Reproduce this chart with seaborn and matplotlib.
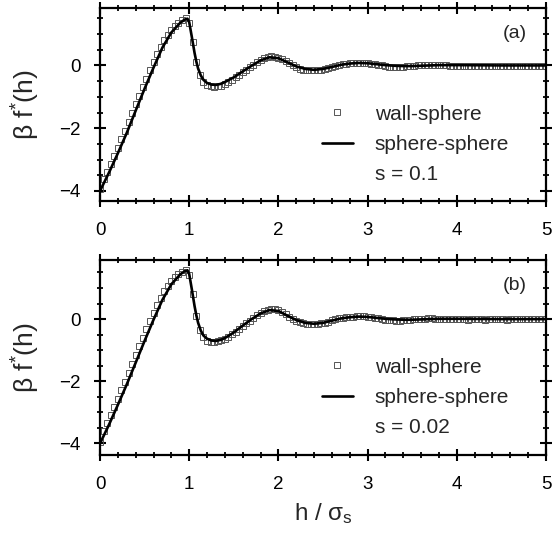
import numpy as np
import pandas as pd
import matplotlib
matplotlib.use("Agg")
import matplotlib.pyplot as plt
from matplotlib.lines import Line2D
from matplotlib.ticker import MultipleLocator
import seaborn as sns

# ---------------- data ----------------
# sphere-sphere curves (solid lines)
h_line = [0.0, 0.1, 0.2, 0.3, 0.4, 0.5, 0.6, 0.7, 0.8, 0.9,
          0.95, 0.98, 1.0, 1.03, 1.06, 1.08, 1.1, 1.13, 1.16, 1.2,
          1.25, 1.3, 1.35, 1.4, 1.5, 1.6, 1.7, 1.8, 1.9, 2.0,
          2.1, 2.2, 2.3, 2.4, 2.5, 2.6, 2.7, 2.8, 2.9, 3.0,
          3.1, 3.2, 3.3, 3.4, 3.5, 3.6, 3.8, 4.0, 4.5, 5.0]
ss_a = [-4.0, -3.42, -2.8, -2.15, -1.44, -0.74, -0.07, 0.57, 1.05, 1.36,
        1.46, 1.49, 1.38, 0.9, 0.4, 0.12, -0.1, -0.32, -0.46, -0.56,
        -0.61, -0.62, -0.59, -0.53, -0.38, -0.19, -0.01, 0.16, 0.26, 0.23,
        0.1, -0.03, -0.11, -0.14, -0.11, -0.05, 0.02, 0.06, 0.08, 0.07,
        0.04, 0.01, -0.01, -0.02, -0.02, -0.01, 0.01, 0.01, 0.0, 0.0]
ss_b = [-4.0, -3.4, -2.76, -2.1, -1.4, -0.7, -0.02, 0.62, 1.12, 1.44,
        1.54, 1.57, 1.45, 0.95, 0.42, 0.12, -0.12, -0.37, -0.53, -0.63,
        -0.69, -0.70, -0.67, -0.61, -0.43, -0.21, 0.0, 0.18, 0.29, 0.26,
        0.11, -0.03, -0.12, -0.15, -0.12, -0.05, 0.02, 0.06, 0.08, 0.07,
        0.04, 0.01, -0.01, -0.02, -0.02, -0.01, 0.01, 0.01, 0.0, 0.0]

# wall-sphere data (open squares), sampled every 0.04 in h
ws_step = 0.04
ws_a = [-3.95, -3.62, -3.38, -3.13, -2.88, -2.62, -2.36, -2.08, -1.80, -1.52,
        -1.24, -0.96, -0.69, -0.42, -0.15, 0.11, 0.36, 0.59, 0.80, 0.98,
        1.13, 1.26, 1.36, 1.45, 1.51, 1.35, 0.75, 0.10, -0.30, -0.52,
        -0.62, -0.67, -0.68, -0.67, -0.64, -0.59, -0.53, -0.46, -0.38, -0.30,
        -0.22, -0.14, -0.06, 0.02, 0.10, 0.17, 0.23, 0.27, 0.29, 0.28,
        0.25, 0.20, 0.14, 0.07, 0.01, -0.05, -0.10, -0.13, -0.15, -0.16,
        -0.16, -0.15, -0.13, -0.10, -0.07, -0.04, -0.01, 0.02, 0.04, 0.06,
        0.07, 0.08, 0.09, 0.09, 0.09, 0.08, 0.06, 0.04, 0.02, 0.00,
        -0.02, -0.04, -0.05, -0.05, -0.05, -0.04, -0.03, -0.02, -0.01, 0.00,
        0.01, 0.01, 0.02, 0.02, 0.01, 0.01, 0.00, 0.00, -0.01, -0.01,
        -0.02, -0.02, -0.02, -0.03, -0.02, -0.02, -0.02, -0.03, -0.02, -0.02,
        -0.02, -0.02, -0.03, -0.02, -0.02, -0.02, -0.02, -0.03, -0.02, -0.02,
        -0.02, -0.02, -0.02, -0.02, -0.02, -0.02]
ws_b = [-3.95, -3.60, -3.35, -3.09, -2.83, -2.56, -2.29, -2.01, -1.73, -1.45,
        -1.16, -0.88, -0.60, -0.32, -0.05, 0.21, 0.46, 0.69, 0.90, 1.08,
        1.23, 1.35, 1.45, 1.52, 1.58, 1.42, 0.80, 0.10, -0.36, -0.59,
        -0.69, -0.73, -0.74, -0.72, -0.68, -0.63, -0.56, -0.48, -0.40, -0.31,
        -0.22, -0.13, -0.05, 0.04, 0.12, 0.19, 0.26, 0.30, 0.32, 0.31,
        0.28, 0.22, 0.15, 0.08, 0.01, -0.05, -0.10, -0.14, -0.16, -0.17,
        -0.17, -0.16, -0.14, -0.11, -0.08, -0.04, -0.01, 0.02, 0.04, 0.06,
        0.07, 0.08, 0.09, 0.09, 0.09, 0.08, 0.06, 0.04, 0.02, 0.00,
        -0.02, -0.03, -0.04, -0.05, -0.05, -0.04, -0.03, -0.02, -0.01, 0.00,
        0.01, 0.01, 0.02, 0.02, 0.01, 0.01, 0.00, 0.00, -0.01, -0.01,
        -0.01, -0.01, -0.01, -0.02, -0.01, -0.01, -0.01, -0.01, -0.02, -0.01,
        -0.01, -0.01, -0.01, -0.01, -0.02, -0.01, -0.01, -0.01, -0.01, -0.01,
        -0.01, -0.01, -0.01, -0.01, -0.01, -0.01]

panel_tags = ["(a)", "(b)"]
s_labels = ["s = 0.1", "s = 0.02"]
x_ticks = [0, 1, 2, 3, 4, 5]
y_ticks = [-4, -2, 0]

# ---------------- style ----------------
sns.set_theme(style="ticks")
plt.rcParams["font.family"] = ["Liberation Sans", "DejaVu Sans"]
plt.rcParams["mathtext.fontset"] = "custom"
plt.rcParams["mathtext.rm"] = "Liberation Sans"
plt.rcParams["mathtext.it"] = "Liberation Sans"
plt.rcParams["mathtext.sf"] = "Liberation Sans"

fig = plt.figure(figsize=(5.53, 5.44), dpi=100)
axes = [fig.add_axes([100 / 553, 1 - 201 / 544, 446 / 553, 193 / 544]),
        fig.add_axes([100 / 553, 1 - 455 / 544, 446 / 553, 195 / 544])]
ylims = [(-4.32, 1.83), (-4.37, 1.90)]

for i, ax in enumerate(axes):
    ws = ws_a if i == 0 else ws_b
    ss = ss_a if i == 0 else ss_b
    h_ws = np.round(ws_step * np.arange(len(ws)), 2)
    df_ws = pd.DataFrame({"h": h_ws, "f": ws})
    df_ss = pd.DataFrame({"h": h_line, "f": ss})

    sns.lineplot(data=df_ws, x="h", y="f", ax=ax, estimator=None, sort=False,
                 linestyle="none", marker="s", markersize=4.8,
                 markerfacecolor="none", markeredgecolor="#555555",
                 markeredgewidth=0.7, color="#555555", zorder=2)
    sns.lineplot(data=df_ss, x="h", y="f", ax=ax, estimator=None, sort=False,
                 color="black", linewidth=1.9, zorder=3)

    ax.set_xlim(0, 5)
    ax.set_ylim(*ylims[i])
    ax.set_xticks(x_ticks)
    ax.set_yticks(y_ticks)
    ax.xaxis.set_minor_locator(MultipleLocator(0.2))
    ax.yaxis.set_minor_locator(MultipleLocator(0.5))
    ax.tick_params(which="both", top=True, right=True, direction="inout",
                   labelsize=13.5, colors="black", labelcolor="black")
    ax.tick_params(which="major", length=8, width=1.5)
    ax.tick_params(which="minor", length=5, width=1.3)
    ax.tick_params(axis="x", which="major", pad=11)
    ax.tick_params(axis="y", which="major", pad=10)
    for sp in ax.spines.values():
        sp.set_linewidth(1.6)
        sp.set_color("black")
        sp.set_visible(True)

    ax.set_xlabel("")
    ax.set_ylabel(r"$\mathrm{\beta\ f^{*}(h)}$", fontsize=19, va="center")
    ax.yaxis.set_label_coords(-0.166, 0.5)

    ax.text(0.957, 0.87, panel_tags[i], transform=ax.transAxes,
            ha="right", va="center", fontsize=14)

    handles = [Line2D([], [], linestyle="none", marker="s", markersize=4.8,
                      markerfacecolor="none", markeredgecolor="#555555",
                      markeredgewidth=0.7),
               Line2D([], [], color="black", linewidth=1.9),
               Line2D([], [], linestyle="none")]
    ax.legend(handles, ["wall-sphere", "sphere-sphere", s_labels[i]],
              loc="upper left", bbox_to_anchor=(0.497, 0.50), frameon=False,
              fontsize=15, handlelength=1.5, handletextpad=1.05,
              labelspacing=0.55, borderpad=0, borderaxespad=0)

axes[1].set_xlabel(r"h / $\mathrm{\sigma_s}$", fontsize=17.5, va="center")
axes[1].xaxis.set_label_coords(0.5, -0.30)

fig.savefig("out.png", dpi=100)
